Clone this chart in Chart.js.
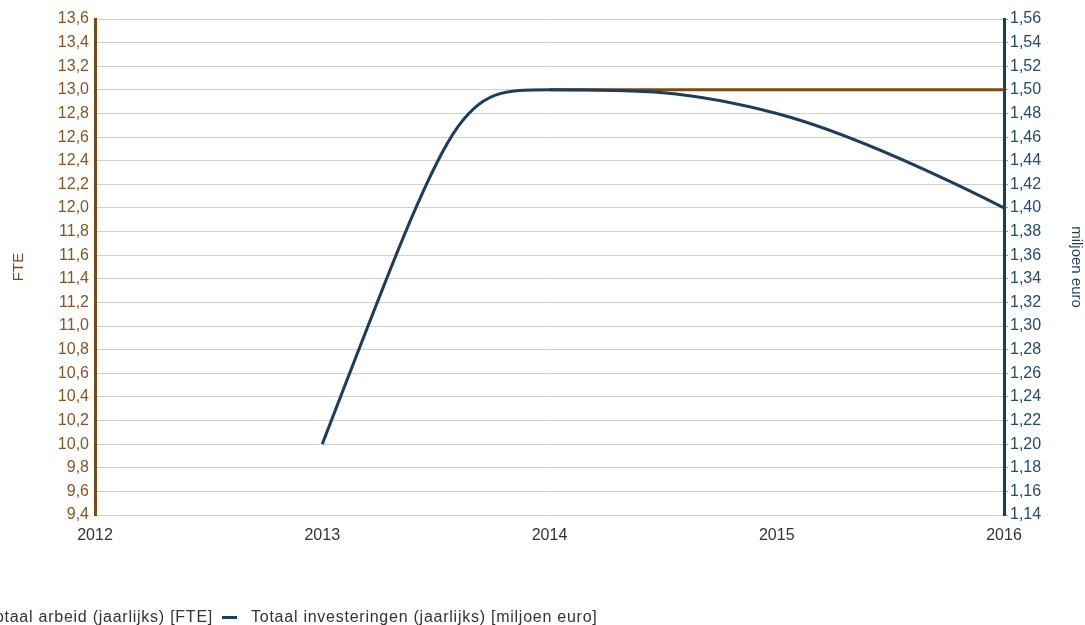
<!DOCTYPE html>
<html>
<head>
<meta charset="utf-8">
<script src="https://cdn.jsdelivr.net/npm/chart.js@4"></script>
<style>
	body { margin: 0; background: #fff; overflow: hidden; }
	#wrap { position: relative; width: 1085px; height: 625px; overflow: hidden; }
	.leg { position: absolute; top: 608px; font: 16px "Liberation Sans", Arial, sans-serif; color: #333; white-space: nowrap; letter-spacing: 0.75px; line-height: 18px; }
	.leg span.mark { display: inline-block; width: 15px; height: 3px; vertical-align: middle; margin-right: 14px; }
</style>
</head>
<body>
<div id="wrap">
	<canvas id="chart" width="1085" height="625"></canvas>
	<div class="leg" style="right:872px"><span class="mark" style="background:#7b4a12"></span>Totaal arbeid (jaarlijks) [FTE]</div>
	<div class="leg" style="left:222px"><span class="mark" style="background:#1d3d5e"></span>Totaal investeringen (jaarlijks) [miljoen euro]</div>
</div>
<script>
// jaren op de x-as
const years = [2012, 2013, 2014, 2015, 2016];
// Totaal arbeid (FTE)
const arbeid = [null, null, 13.0, 13.0, 13.0];
// Totaal investeringen (miljoen euro)
const investeringen = [null, 1.20, 1.50, 1.48, 1.40];

const brown = '#7b4a12';
const blue = '#1d3d5e';
const fontFam = '"Liberation Sans", Arial, sans-serif';

const toPoints = (vals) => years.map((y, i) => ({ x: y, y: vals[i] })).filter(p => p.y !== null);

// spline zoals in de originele grafiek (controlepunten op 1.5/2.5, vlak bij toppen)
const splinePlugin = {
	id: 'spline',
	beforeDatasetDraw(chart, args) {
		const meta = args.meta;
		const pts = meta.data;
		meta.dataset.updateControlPoints(chart.chartArea, 'x');
		pts.forEach((p, i) => {
			const last = pts[i - 1];
			const next = pts[i + 1];
			p.cp1x = p.x; p.cp1y = p.y; p.cp2x = p.x; p.cp2y = p.y;
			if (!last || !next) return;
			const lcx = (1.5 * p.x + last.x) / 2.5;
			let lcy = (1.5 * p.y + last.y) / 2.5;
			const rcx = (1.5 * p.x + next.x) / 2.5;
			let rcy = (1.5 * p.y + next.y) / 2.5;
			if (rcx !== lcx) {
				const corr = ((rcy - lcy) * (rcx - p.x)) / (rcx - lcx) + p.y - rcy;
				lcy += corr;
				rcy += corr;
			}
			if (lcy > Math.max(last.y, p.y)) { lcy = Math.max(last.y, p.y); rcy = 2 * p.y - lcy; }
			else if (lcy < Math.min(last.y, p.y)) { lcy = Math.min(last.y, p.y); rcy = 2 * p.y - lcy; }
			if (rcy > Math.max(p.y, next.y)) { rcy = Math.max(p.y, next.y); lcy = 2 * p.y - rcy; }
			else if (rcy < Math.min(p.y, next.y)) { rcy = Math.min(p.y, next.y); lcy = 2 * p.y - rcy; }
			p.cp1x = lcx; p.cp1y = lcy; p.cp2x = rcx; p.cp2y = rcy;
		});
		// eerste segment: beide controlepunten gelijk
		if (pts.length > 2) {
			pts[0].cp2x = pts[1].cp1x;
			pts[0].cp2y = pts[1].cp1y;
		}
	}
};

const config = {
	type: 'line',
	data: {
		datasets: [
			{
				label: 'Totaal arbeid (jaarlijks) [FTE]',
				data: toPoints(arbeid),
				borderColor: brown,
				borderWidth: 3,
				pointRadius: 0,
				tension: 0.4,
				yAxisID: 'yLeft',
				order: 1
			},
			{
				label: 'Totaal investeringen (jaarlijks) [miljoen euro]',
				data: toPoints(investeringen),
				borderColor: blue,
				borderWidth: 3,
				pointRadius: 0,
				tension: 0.4,
				yAxisID: 'yRight',
				order: 0
			}
		]
	},
	options: {
		responsive: false,
		animation: false,
		layout: { padding: { top: 19, bottom: 82, left: 0, right: 0 } },
		plugins: { legend: { display: false }, tooltip: { enabled: false } },
		scales: {
			x: {
				type: 'linear',
				min: 2012,
				max: 2016,
				afterFit: (s) => { s.height = 28; },
				grid: { display: false },
				border: { display: false },
				ticks: {
					stepSize: 1,
					color: '#333',
					font: { size: 16, family: fontFam },
					padding: 3,
					callback: (v) => String(v)
				}
			},
			yLeft: {
				position: 'left',
				min: 9.4,
				max: 13.6,
				afterFit: (s) => { s.width = 95; },
				border: { color: brown, width: 3 },
				grid: { color: '#d0d0d0', lineWidth: 1, drawTicks: false },
				title: {
					display: true,
					text: 'FTE',
					color: brown,
					padding: { top: 10, bottom: 0 },
					font: { size: 15, family: fontFam }
				},
				ticks: {
					stepSize: 0.2,
					autoSkip: false,
					color: '#8a5420',
					padding: 6,
					font: { size: 16, family: fontFam },
					callback: (v) => v.toFixed(1).replace('.', ',')
				}
			},
			yRight: {
				position: 'right',
				min: 1.14,
				max: 1.56,
				afterFit: (s) => { s.width = 81; },
				border: { color: blue, width: 3 },
				grid: { drawOnChartArea: false, tickLength: 4, color: '#999' },
				title: {
					display: true,
					text: 'miljoen euro',
					color: blue,
					padding: { top: 0, bottom: 5 },
					font: { size: 15, family: fontFam }
				},
				ticks: {
					stepSize: 0.02,
					autoSkip: false,
					color: '#264a70',
					padding: 2,
					font: { size: 16, family: fontFam },
					callback: (v) => v.toFixed(2).replace('.', ',')
				}
			}
		}
	},
	plugins: [splinePlugin]
};

new Chart(document.getElementById('chart'), config);
</script>
</body>
</html>
